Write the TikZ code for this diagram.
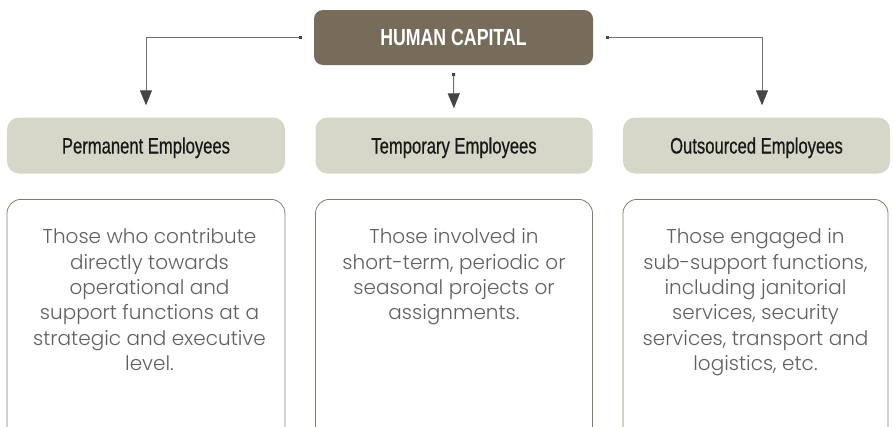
\documentclass[tikz,border=0pt]{standalone}
\usepackage{fontspec}
\usetikzlibrary{arrows.meta}

\newfontfamily\headfont{Liberation Sans}[FakeStretch=0.76]
\newfontfamily\catfont{Liberation Sans}[FakeStretch=0.745,FakeBold=0.6]
\newfontfamily\bodyfont{Poppins Light}

\definecolor{hcbrown}{HTML}{776B5A}
\definecolor{catgrey}{HTML}{D6D6C9}
\definecolor{boxline}{HTML}{857A69}
\definecolor{linegrey}{HTML}{707070}
\definecolor{tipdark}{HTML}{454545}
\definecolor{bodygrey}{HTML}{606060}

\tikzset{
  hcbox/.style={fill=hcbrown, rounded corners=9pt, minimum width=279pt,
    minimum height=55pt, inner sep=0pt, text=white,
    text height=16.7pt, text depth=0pt,
    font=\headfont\bfseries\fontsize{23.3}{23.3}\selectfont},
  catbox/.style={fill=catgrey, rounded corners=12pt, minimum height=56pt,
    inner sep=0pt, text=black!90, text height=16pt, text depth=0pt,
    font=\catfont\fontsize{22.3}{22.3}\selectfont},
  descbox/.style={draw=boxline, line width=0.8pt, rounded corners=14pt,
    anchor=north, minimum height=260pt, inner sep=0pt},
  desctext/.style={font=\bodyfont\fontsize{20}{25.4}\selectfont,
    text=bodygrey, align=center, anchor=north, inner sep=0pt},
  conn/.style={draw=linegrey, line width=1pt,
    {Square[length=3pt,width=3pt,color=tipdark]}-{Triangle[length=15pt,width=12pt,color=tipdark]}}
}

\begin{document}
\begin{tikzpicture}[x=1pt,y=-1pt]
  \useasboundingbox (0,0) rectangle (893,426);
  \clip (0,0) rectangle (893,426);

  % top node
  \node[hcbox] (hc) at (453.5,37.5) {HUMAN CAPITAL};

  % category headers
  \node[catbox, minimum width=278pt] (perm) at (146,145.5) {Permanent Employees};
  \node[catbox, minimum width=277pt] (temp) at (454,145.5) {Temporary Employees};
  \node[catbox, minimum width=267pt] (outs) at (756.5,145.5) {Outsourced Employees};

  % description frames (run past the lower edge)
  \node[descbox, minimum width=278pt] (d1) at (146,199) {};
  \node[descbox, minimum width=277pt] (d2) at (454,199) {};
  \node[descbox, minimum width=265pt] (d3) at (755.5,199) {};

  % description texts
  \node[desctext] (t1) at (149.5,228.5) {Those who contribute\\directly towards\\operational and\\support functions at a\\strategic and executive\\level.};
  \node[desctext] (t2) at (454,228.5) {Those involved in\\short-term, periodic or\\seasonal projects or\\assignments.};
  \node[desctext] (t3) at (755.5,228.5) {Those engaged in\\sub-support functions,\\including janitorial\\services, security\\services, transport and\\logistics, etc.};

  % connectors
  \draw[conn, shorten >=12pt] ([xshift=-12pt]hc.west) -| (perm.north);
  \draw[conn, shorten >=9pt] ([yshift=-8pt]hc.south) -- (temp.north);
  \draw[conn, shorten >=12pt] ([xshift=13pt]hc.east) -| ([xshift=5.5pt]outs.north);
\end{tikzpicture}
\end{document}
